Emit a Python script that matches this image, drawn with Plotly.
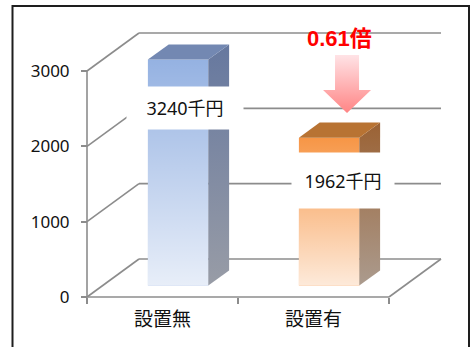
import plotly.graph_objects as go

# ---- data ----
categories = ["設置無", "設置有"]
values = [3240, 1962]
label_texts = ["3240千円", "1962千円"]
y_ticks = [0, 1000, 2000, 3000]
ratio_text = "0.61倍"

# ---- styling / projection ----
Y_MAX = 3000                 # axis maximum (bars are clipped here, as in the original)
PX_PER_X = 151.0             # pixels per category unit
PX_PER_Y = 75.333 / 1000.0   # pixels per value unit
DX, DY = 52 / PX_PER_X, 38 / PX_PER_Y   # depth vector of the 3-D wall
F0, FD = 0.30, 0.40          # bar front depth fraction, bar depth fraction
BW = 0.40                    # bar width (category units)
GRID = "#8c8c8c"
FONT = "Noto Sans CJK JP"
NUMFONT = "Noto Sans, Noto Sans CJK JP"

x_range = [-162.5 / PX_PER_X, (476 - 162.5) / PX_PER_X]
y_range = [-(347 - 297) / PX_PER_Y, 297 / PX_PER_Y]

front_top = ["#95b2e2", "#f79646"]
bottom_tint = ["rgba(255,255,255,0.78)", "rgba(255,255,255,0.80)"]
side_top = ["#66789f", "#9b6234"]
side_bottom = ["#989ca6", "#ab9b8e"]
top_face = ["#7388b2", "#b87333"]

fig = go.Figure()

drawn = [min(v, Y_MAX) for v in values]
xs = [i + F0 * DX for i in range(len(categories))]
base = F0 * DY

fig.add_trace(go.Bar(
    x=xs, y=drawn, base=base, width=BW,
    marker=dict(color=front_top, line=dict(width=0)),
    hoverinfo="skip", showlegend=False,
))

for i, (xc, h) in enumerate(zip(xs, drawn)):
    xl, xr = xc - BW / 2, xc + BW / 2
    yb, yt = base, base + h
    ddx, ddy = FD * DX, FD * DY
    # gradient sheen on the front face
    fig.add_trace(go.Scatter(
        x=[xl, xr, xr, xl, xl], y=[yb, yb, yt, yt, yb],
        fill="toself", mode="lines", line=dict(width=0),
        fillgradient=dict(type="vertical",
                          colorscale=[[0, bottom_tint[i]], [1, "rgba(255,255,255,0)"]]),
        hoverinfo="skip", showlegend=False))
    # side face
    fig.add_trace(go.Scatter(
        x=[xr, xr + ddx, xr + ddx, xr, xr], y=[yb, yb + ddy, yt + ddy, yt, yb],
        fill="toself", mode="lines", line=dict(width=0),
        fillgradient=dict(type="vertical",
                          colorscale=[[0, side_bottom[i]], [1, side_top[i]]]),
        hoverinfo="skip", showlegend=False))
    # top face
    fig.add_trace(go.Scatter(
        x=[xl, xr, xr + ddx, xl + ddx, xl], y=[yt, yt, yt + ddy, yt + ddy, yt],
        fill="toself", mode="lines", line=dict(width=0), fillcolor=top_face[i],
        hoverinfo="skip", showlegend=False))

# down arrow (pink gradient)
ax = 1.222
a_top, a_neck, a_tip = 3213, 2748, 2443
sw, hw = 0.0795, 0.159
fig.add_trace(go.Scatter(
    x=[ax - sw, ax + sw, ax + sw, ax + hw, ax, ax - hw, ax - sw, ax - sw],
    y=[a_top, a_top, a_neck, a_neck, a_tip, a_neck, a_neck, a_top],
    fill="toself", mode="lines", line=dict(width=0),
    fillgradient=dict(type="vertical", colorscale=[[0, "#ff8585"], [1, "#ffe3e6"]]),
    hoverinfo="skip", showlegend=False))

# ---- 3-D walls / gridlines ----
shapes = []
def seg(x0, y0, x1, y1, color=GRID, w=1.6, xref="x", yref="y", layer="below"):
    shapes.append(dict(type="line", x0=x0, y0=y0, x1=x1, y1=y1, xref=xref, yref=yref,
                       line=dict(color=color, width=w), layer=layer))

for v in y_ticks:
    seg(-0.5, v, -0.5 + DX, v + DY)
    seg(-0.5 + DX, v + DY, 1.5 + DX, v + DY)
seg(-0.5, 0, 1.5, 0)
seg(1.5, 0, 1.5 + DX, DY)
seg(-0.5, 0, -0.5, Y_MAX)

# chart frame
shapes.append(dict(type="rect", xref="paper", yref="paper",
                   x0=12.5 / 476, x1=469 / 476, y0=-0.05, y1=1 - 6 / 347,
                   line=dict(color="#1e1e1e", width=2), fillcolor="rgba(0,0,0,0)",
                   layer="above"))

annotations = [
    dict(x=0.149, y=2509, xref="x", yref="y", text=label_texts[0], showarrow=False,
         width=114, height=40, bgcolor="white", font=dict(size=18, color="#111", family=NUMFONT)),
    dict(x=1.195, y=1547, xref="x", yref="y", text=label_texts[1], showarrow=False,
         width=100, height=53, bgcolor="white", font=dict(size=18, color="#111", family=NUMFONT)),
    dict(x=1.169, y=3425, xref="x", yref="y", text="<b>" + ratio_text + "</b>", showarrow=False,
         font=dict(size=22, color="#ff0000", family="Liberation Sans, Noto Sans CJK JP")),
]

fig.update_layout(
    width=476, height=347,
    margin=dict(l=0, r=0, t=0, b=0),
    paper_bgcolor="white", plot_bgcolor="white",
    showlegend=False,
    shapes=shapes, annotations=annotations,
    font=dict(family=FONT, color="#111"),
    xaxis=dict(range=x_range, domain=[0, 1], anchor="free", position=(347 - 297) / 347,
               tickvals=[0, 1], ticktext=categories, ticks="",
               showgrid=False, zeroline=False, showline=False,
               tickfont=dict(size=19, family=FONT, color="#111"),
               minor=dict(tickvals=[-0.5, 0.5, 1.5], ticks="outside", ticklen=6,
                          tickcolor=GRID, tickwidth=1.6, showgrid=False),
               ticklabelstandoff=9, fixedrange=True),
    yaxis=dict(range=y_range, domain=[0, 1], anchor="free", position=87 / 476,
               tickvals=y_ticks, ticks="outside", ticklen=6, tickcolor=GRID, tickwidth=1.6,
               showgrid=False, zeroline=False, showline=False,
               tickfont=dict(size=17, family=NUMFONT, color="#111"),
               ticklabelstandoff=8, fixedrange=True),
)

fig.write_html("out.html")
